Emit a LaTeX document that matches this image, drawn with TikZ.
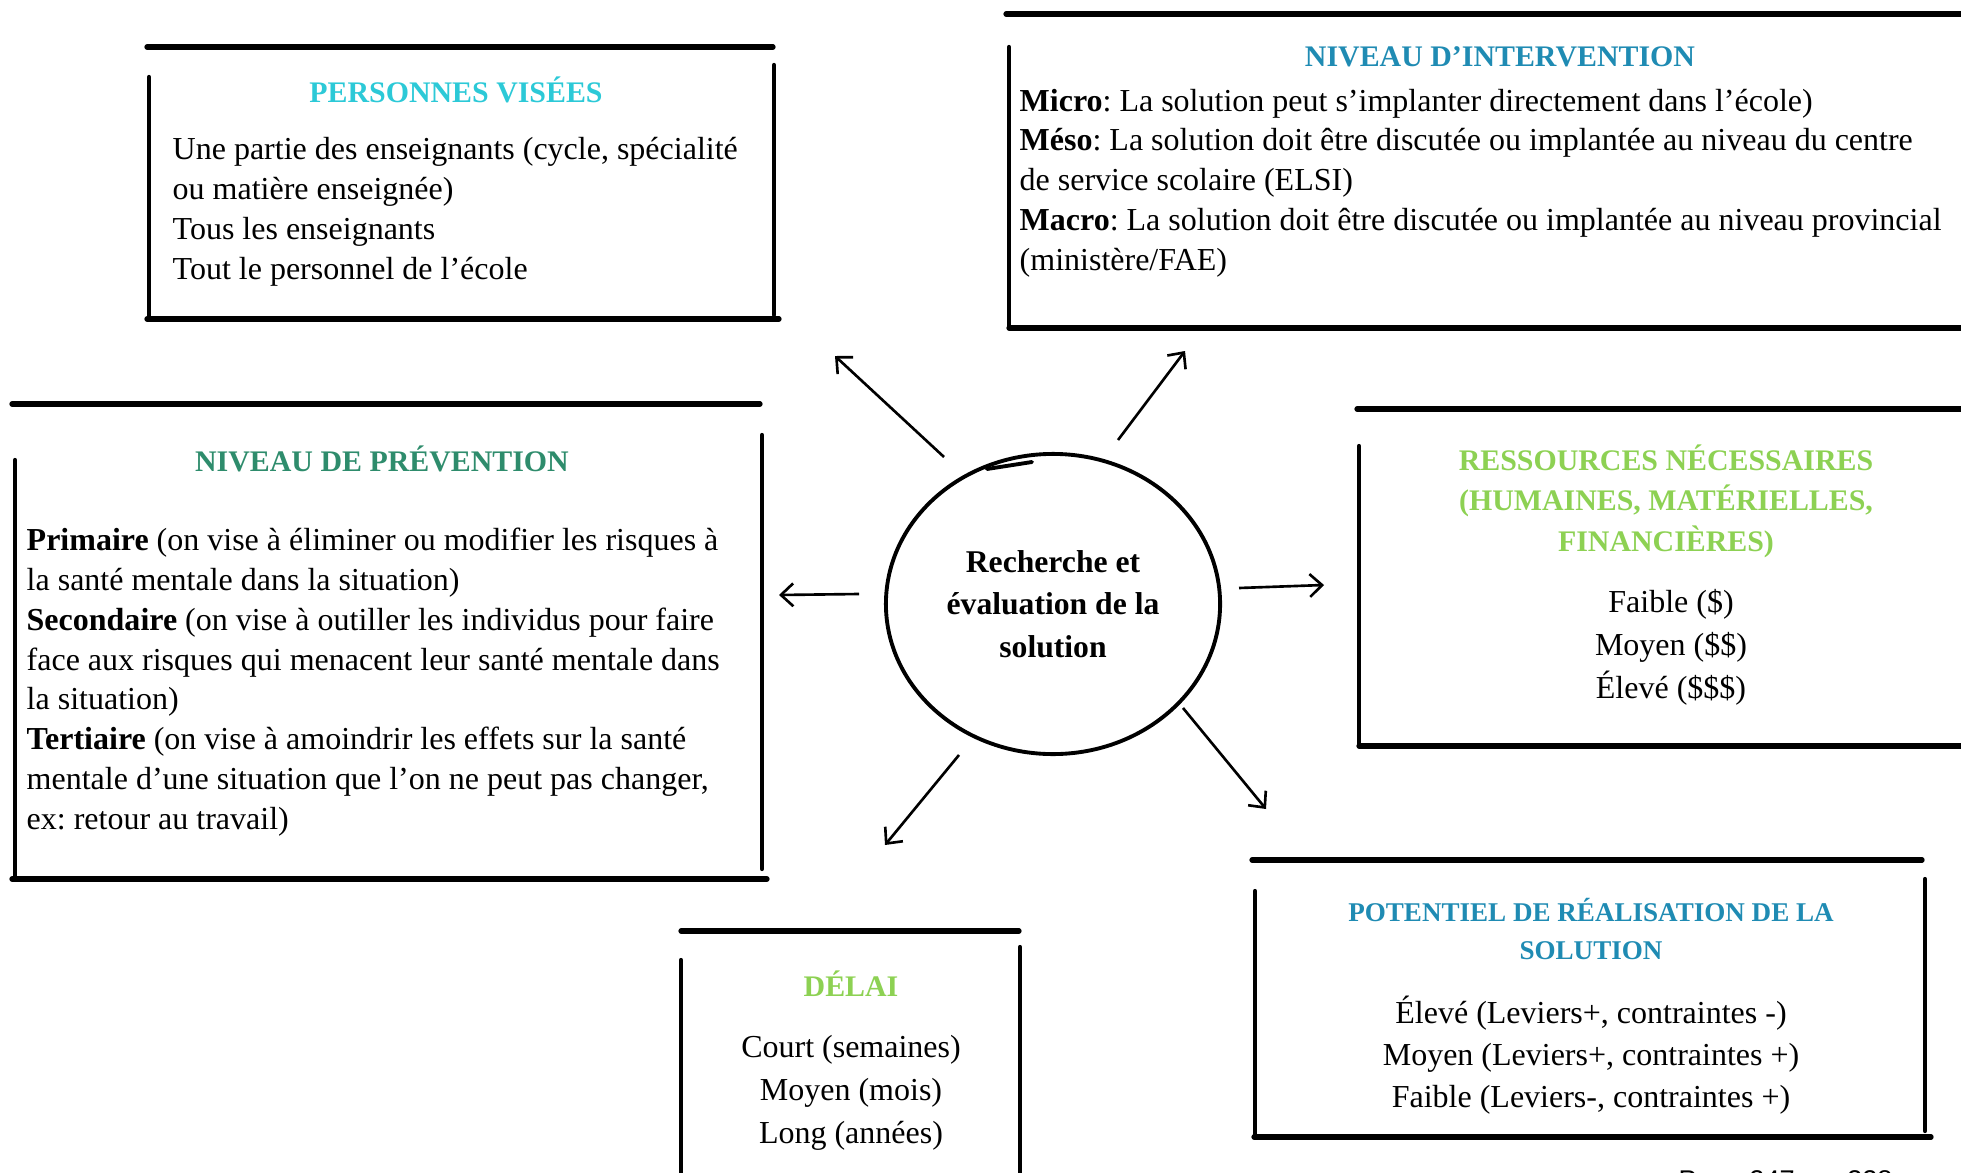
\documentclass[tikz,border=0pt]{standalone}
\usepackage{fontspec}
\setmainfont{Liberation Serif}
\newfontfamily\footfont{Liberation Sans}
\usetikzlibrary{arrows.meta, positioning, shapes.geometric}
\frenchspacing
\definecolor{cyantitle}{HTML}{2CC9D7}
\definecolor{bluetitle}{HTML}{1F8BB3}
\definecolor{greentitle}{HTML}{2E8C6C}
\definecolor{limetitle}{HTML}{8DD153}
\tikzset{
    heading/.style={font=\bfseries\fontsize{8.5}{11.4}\selectfont, align=center, inner sep=0pt, anchor=base},
    bodytext/.style={font=\fontsize{9.1}{11.3}\selectfont, align=left, inner sep=0pt, anchor=base west},
    itemlist/.style={font=\fontsize{9.1}{12.1}\selectfont, align=center, inner sep=0pt, anchor=base},
    rim/.style={line width=1.5pt, line cap=round},
    frame/.style={line width=1.2pt, line cap=round},
    arrow/.style={-{Straight Barb[length=3.5pt, width=6.5pt]}, line width=0.75pt}
}

\begin{document}
\begin{tikzpicture}[x=0.01cm, y=-0.01cm]
        \useasboundingbox (0,0) rectangle (1961,1173);

        \node [draw, ellipse, line width=1.1pt, inner sep=0pt, minimum width=3.34cm, minimum height=3cm,
               align=center, font=\bfseries\fontsize{9}{12.1}\selectfont] (sol) at (1053,604)
              {Recherche et\\évaluation de la\\solution};
        \draw [line width=1.1pt, line cap=round] (987,469) -- (1032,462);

        \node [heading, text=cyantitle] (pv) at (456,103) {PERSONNES VISÉES};
        \node [bodytext] (pvtext) at (172,279) {Une partie des enseignants (cycle, spécialité\\ou matière enseignée)\\Tous les enseignants\\Tout le personnel de l’école};
        \draw [rim] (147,47) -- (773,47);
        \draw [frame] (149,77) -- (149,319);
        \draw [frame] (774,65) -- (774,315);
        \draw [rim] (147,319) -- (779,319);

        \node [heading, text=bluetitle] (ni) at (1500,67) {NIVEAU D’INTERVENTION};
        \node [bodytext] (nitext) at (1019,270) {\textbf{Micro}: La solution peut s’implanter directement dans l’école)\\\textbf{Méso}: La solution doit être discutée ou implantée au niveau du centre\\de service scolaire (ELSI)\\\textbf{Macro}: La solution doit être discutée ou implantée au niveau provincial\\(ministère/FAE)};
        \draw [rim] (1006,14) -- (1975,14);
        \draw [frame] (1009,47) -- (1009,328);
        \draw [rim] (1009,328) -- (1975,328);

        \node [heading, text=greentitle] (np) at (382,471) {NIVEAU DE PRÉVENTION};
        \node [bodytext] (nptext) at (26,829) {\textbf{Primaire} (on vise à éliminer ou modifier les risques à\\la santé mentale dans la situation)\\\textbf{Secondaire} (on vise à outiller les individus pour faire\\face aux risques qui menacent leur santé mentale dans\\la situation)\\\textbf{Tertiaire} (on vise à amoindrir les effets sur la santé\\mentale d’une situation que l’on ne peut pas changer,\\ex: retour au travail)};
        \draw [rim] (12,404) -- (760,404);
        \draw [frame] (15,460) -- (15,879);
        \draw [frame] (762,435) -- (762,869);
        \draw [rim] (12,879) -- (767,879);

        \node [heading, text=limetitle] (rn) at (1666,551) {RESSOURCES NÉCESSAIRES\\(HUMAINES, MATÉRIELLES,\\FINANCIÈRES)};
        \node [itemlist] (rntext) at (1671,698) {Faible (\$)\\Moyen (\$\$)\\Élevé (\$\$\$)};
        \draw [rim] (1357,409) -- (1975,409);
        \draw [frame] (1359,446) -- (1359,746);
        \draw [rim] (1359,746) -- (1975,746);

        \node [heading, text=bluetitle, font=\bfseries\fontsize{7.7}{10.7}\selectfont] (pr) at (1591,959) {POTENTIEL DE RÉALISATION DE LA\\SOLUTION};
        \node [itemlist, font=\fontsize{9.1}{11.9}\selectfont] (prtext) at (1591,1107) {Élevé (Leviers+, contraintes -)\\Moyen (Leviers+, contraintes +)\\Faible (Leviers-, contraintes +)};
        \draw [rim] (1252,860) -- (1922,860);
        \draw [frame] (1255,891) -- (1255,1137);
        \draw [frame] (1925,879) -- (1925,1131);
        \draw [rim] (1254,1137) -- (1931,1137);

        \node [heading, text=limetitle] (de) at (851,996) {DÉLAI};
        \node [itemlist] (detext) at (851,1143) {Court (semaines)\\Moyen (mois)\\Long (années)};
        \draw [rim] (681,931) -- (1019,931);
        \draw [frame] (681,960) -- (681,1190);
        \draw [frame] (1020,947) -- (1020,1190);

        \node [anchor=base west, inner sep=0pt, font=\footfont\fontsize{7.7}{9}\selectfont] (page) at (1678,1189) {Page 247 sur 328};

        \coordinate (pv-from) at (944,457);  \coordinate (pv-to) at (835,356);
        \coordinate (ni-from) at (1118,440); \coordinate (ni-to) at (1185,351);
        \coordinate (np-from) at (859,594);  \coordinate (np-to) at (779,595);
        \coordinate (rn-from) at (1239,588); \coordinate (rn-to) at (1324,585);
        \coordinate (pr-from) at (1183,708); \coordinate (pr-to) at (1266,809);
        \coordinate (de-from) at (959,755);  \coordinate (de-to) at (885,845);

        \draw [arrow] (pv-from) -- (pv-to);
        \draw [arrow] (ni-from) -- (ni-to);
        \draw [arrow] (np-from) -- (np-to);
        \draw [arrow] (rn-from) -- (rn-to);
        \draw [arrow] (pr-from) -- (pr-to);
        \draw [arrow] (de-from) -- (de-to);
    \end{tikzpicture}
\end{document}
